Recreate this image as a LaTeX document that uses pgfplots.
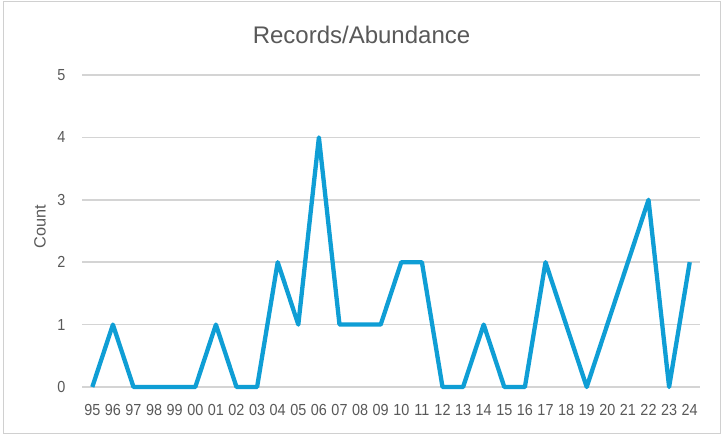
\documentclass[border=0pt]{standalone}
\usepackage{fontspec}
\setmainfont{Liberation Sans}
\newfontfamily\tickfont[FakeStretch=0.9]{Liberation Sans}
\usepackage{pgfplots}
\pgfplotsset{compat=1.18}
\definecolor{txt}{HTML}{595959}
\definecolor{gridc}{HTML}{D4D4D4}
\definecolor{linec}{HTML}{0F9ED5}
\definecolor{bordc}{HTML}{D0D0D0}
\pgfplotstableread{
x y
0 0
1 1
2 0
3 0
4 0
5 0
6 1
7 0
8 0
9 2
10 1
11 4
12 1
13 1
14 1
15 2
16 2
17 0
18 0
19 1
20 0
21 0
22 2
23 1
24 0
25 1
26 2
27 3
28 0
29 2
}\datatable
\begin{document}
\begin{tikzpicture}[x=1pt,y=1pt]
\path[fill=white] (0,0) rectangle (723,436);
\draw[bordc, line width=1pt] (3,2) rectangle (720,434);
\begin{axis}[
  at={(82pt,49pt)}, anchor=south west,
  width=618pt, height=312pt, scale only axis,
  xmin=-0.5, xmax=29.5, ymin=0, ymax=5,
  xtick={0,...,29},
  xticklabels={95,96,97,98,99,00,01,02,03,04,05,06,07,08,09,10,11,12,13,14,15,16,17,18,19,20,21,22,23,24},
  ytick={0,1,2,3,4,5},
  /pgf/number format/assume math mode=true,
  major tick length=0pt,
  axis line style={draw=none},
  ymajorgrids, grid style={gridc, line width=1.6pt},
  xticklabel style={font=\fontsize{16}{18}\selectfont\tickfont, text=txt, anchor=base, inner sep=0pt, yshift=-28.7pt},
  yticklabel style={font=\fontsize{16}{18}\selectfont\tickfont, text=txt, anchor=east, inner sep=0pt, xshift=-16.3pt},
  ylabel={Count},
  every axis y label/.style={at={(axis description cs:0,0.5)}, xshift=-42pt, yshift=4pt, rotate=90, anchor=center, inner sep=0pt, font=\fontsize{16.3}{18}\selectfont, text=txt},
  clip=false,
]
\addplot[linec, line width=4.3pt, line join=round, line cap=butt, mark=none] table[x=x,y=y] {\datatable};
\end{axis}
\node[anchor=base, text=txt, font=\fontsize{24}{28}\selectfont, inner sep=0pt] at (361.5,392.7) {Records/Abundance};
\end{tikzpicture}
\end{document}
